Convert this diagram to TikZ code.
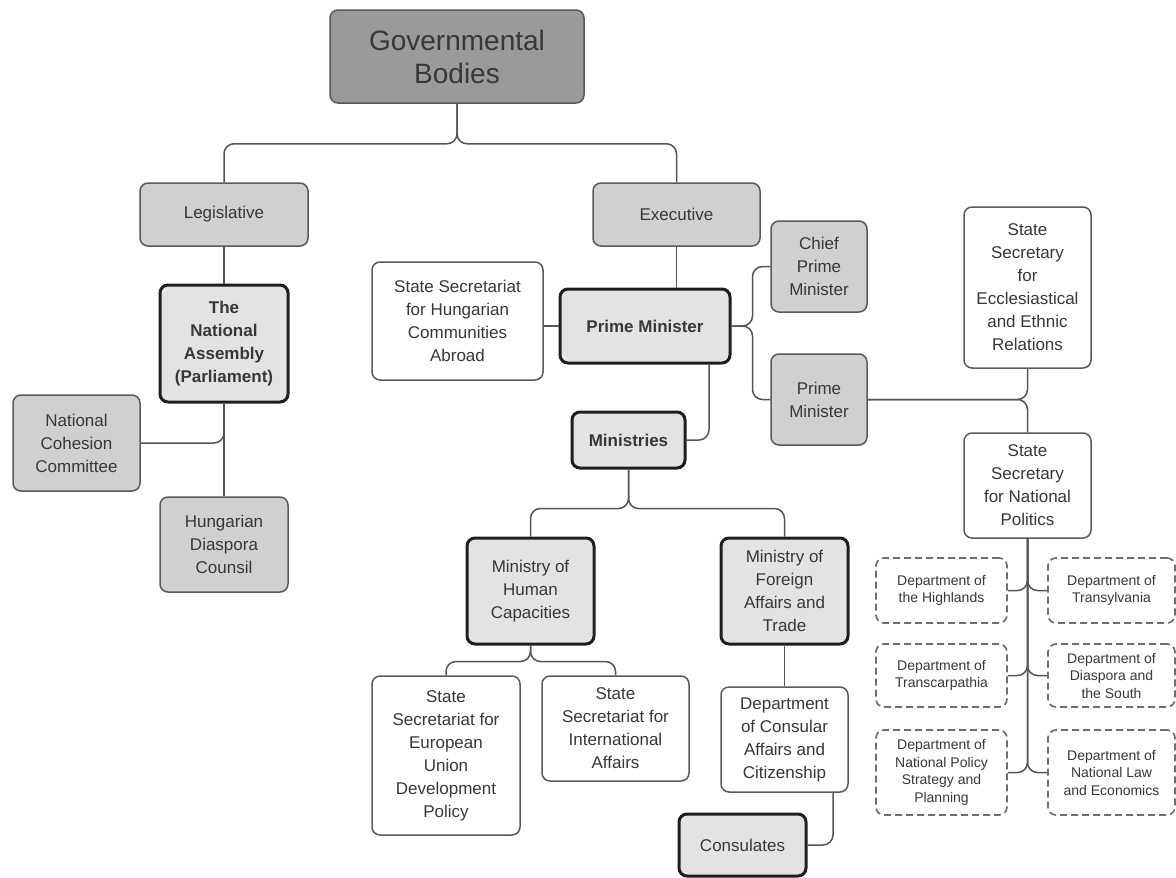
\documentclass[tikz,border=0pt]{standalone}
\usepackage{fontspec}
\setmainfont{Liberation Sans}
\usetikzlibrary{calc}
\definecolor{txt}{HTML}{383838}
\definecolor{darkfill}{HTML}{9A9A9A}
\definecolor{midfill}{HTML}{D0D0D0}
\definecolor{lightfill}{HTML}{E3E3E3}
\definecolor{bordergray}{HTML}{5A5A5A}
\definecolor{darkborder}{HTML}{1E1E1E}
\definecolor{dashgray}{HTML}{6E6E6E}
\definecolor{linegray}{HTML}{555555}
\begin{document}
\begin{tikzpicture}[x=1pt,y=-1pt,
  base/.style={rounded corners=8pt, align=center, text=txt, inner sep=2pt,
    font=\fontsize{17}{23}\selectfont, line width=1.5pt},
  topbox/.style={base, draw=bordergray, fill=darkfill, font=\fontsize{28}{33}\selectfont},
  gbox/.style={base, draw=bordergray, fill=midfill},
  tbox/.style={base, draw=darkborder, line width=3pt, fill=lightfill},
  bbox/.style={tbox, font=\bfseries\fontsize{17}{23}\selectfont},
  wbox/.style={base, draw=bordergray, fill=white},
  dbox/.style={base, draw=dashgray, line width=1.7pt, dash pattern=on 7pt off 4pt, fill=white,
    font=\fontsize{14}{17.5}\selectfont},
  conn/.style={draw=linegray, line width=1.5pt, rounded corners=10pt},
  sz/.style 2 args={minimum width=#1, minimum height=#2}
]
\useasboundingbox (0,0) rectangle (1176,878);

% nodes
\node[topbox, sz={254pt}{93pt}] (gb) at (457,56.5) {Governmental\\Bodies};
\node[gbox, sz={168pt}{63pt}] (leg) at (224,214.5) {Legislative};
\node[gbox, sz={167pt}{63pt}] (exe) at (676.5,214.5) {Executive};
\node[bbox, sz={128pt}{117pt}] (na) at (224,343.5) {The\\National\\Assembly\\(Parliament)};
\node[gbox, sz={127pt}{96pt}] (ncc) at (76.5,443) {National\\Cohesion\\Committee};
\node[gbox, sz={128pt}{95pt}] (hdc) at (224,544.5) {Hungarian\\Diaspora\\Counsil};
\node[wbox, sz={171pt}{118pt}] (ssh) at (457.5,321) {State Secretariat\\for Hungarian\\Communities\\Abroad};
\node[bbox, sz={170pt}{74pt}] (pm) at (645,326) {Prime Minister};
\node[gbox, sz={96pt}{91pt}] (cpm) at (819,266.5) {Chief\\Prime\\Minister};
\node[gbox, sz={96pt}{91pt}] (pm2) at (819,399.5) {Prime\\Minister};
\node[wbox, sz={127pt}{161pt}] (sser) at (1027.5,287.5) {State\\Secretary\\for\\Ecclesiastical\\and Ethnic\\Relations};
\node[wbox, sz={127pt}{105pt}] (ssnp) at (1027.5,485.5) {State\\Secretary\\for National\\Politics};
\node[bbox, sz={113pt}{56pt}] (min) at (628.5,440) {Ministries};
\node[tbox, sz={127pt}{106pt}] (mhc) at (530.5,591) {Ministry of\\Human\\Capacities};
\node[tbox, sz={127pt}{106pt}] (mfa) at (784.5,591) {Ministry of\\Foreign\\Affairs and\\Trade};
\node[wbox, sz={148pt}{159pt}] (sseu) at (446,755.5) {State\\Secretariat for\\European\\Union\\Development\\Policy};
\node[wbox, sz={147pt}{105pt}] (ssia) at (615.5,728.5) {State\\Secretariat for\\International\\Affairs};
\node[wbox, sz={127pt}{105pt}] (dcac) at (784.5,739.5) {Department\\of Consular\\Affairs and\\Citizenship};
\node[tbox, sz={127pt}{62pt}] (cons) at (742.5,845) {Consulates};

\node[dbox, sz={131pt}{65pt}] (d1) at (941.5,590.5) {Department of\\the Highlands};
\node[dbox, sz={127pt}{65pt}] (d2) at (1111.5,590.5) {Department of\\Transylvania};
\node[dbox, sz={131pt}{63pt}] (d3) at (941.5,675.5) {Department of\\Transcarpathia};
\node[dbox, sz={127pt}{63pt}] (d4) at (1111.5,675.5) {Department of\\Diaspora and\\the South};
\node[dbox, sz={131pt}{85pt}] (d5) at (941.5,772.5) {Department of\\National Policy\\Strategy and\\Planning};
\node[dbox, sz={127pt}{85pt}] (d6) at (1111.5,772.5) {Department of\\National Law\\and Economics};

% connectors
\draw[conn] (gb.south) -- ++(0,40) -| (leg.north);
\draw[conn] (gb.south) -- ++(0,40) -| (exe.north);
\draw[conn] (leg.south) -- (na.north);
\draw[conn] (na.south) |- (ncc.east);
\draw[conn] (na.south) -- (hdc.north);
\draw[conn] (exe.south) -- (exe.south |- pm.north);
\draw[conn] (pm.west) -- (pm.west -| ssh.east);
\draw[conn] (pm.east) -- ++(21,0) |- (cpm.west);
\draw[conn] (pm.east) -- ++(21,0) |- (pm2.west);
\draw[conn] ($(pm.south)+(64,0)$) |- (min.east);
\draw[conn] (pm2.east) -| (sser.south);
\draw[conn] (pm2.east) -| (ssnp.north);
\draw[conn] (ssnp.south) |- (d1.east);
\draw[conn] (ssnp.south) |- (d2.west);
\draw[conn] (ssnp.south) |- (d3.east);
\draw[conn] (ssnp.south) |- (d4.west);
\draw[conn] (ssnp.south) |- (d5.east);
\draw[conn] (ssnp.south) |- (d6.west);
\draw[conn] (min.south) -- ++(0,39) -| (mhc.north);
\draw[conn] (min.south) -- ++(0,39) -| (mfa.north);
\draw[conn] (mhc.south) -- ++(0,16) -| (sseu.north);
\draw[conn] (mhc.south) -- ++(0,16) -| (ssia.north);
\draw[conn] (mfa.south) -- (dcac.north);
\draw[conn] ($(dcac.south)+(48.5,0)$) |- (cons.east);
\end{tikzpicture}
\end{document}
